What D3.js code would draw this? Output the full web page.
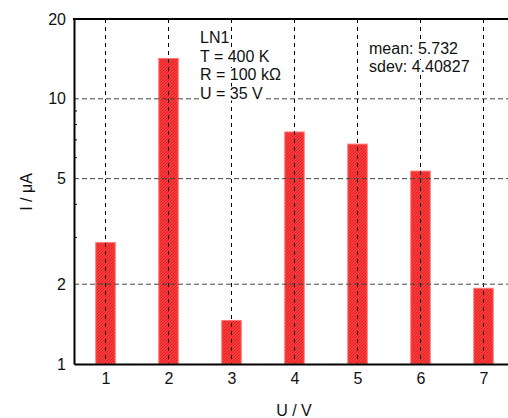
<!DOCTYPE html>
<html><head><meta charset="utf-8">
<script src="https://cdn.jsdelivr.net/npm/d3@7"></script>
<style>body{margin:0;background:#fff}svg{display:block}text{font-family:"Liberation Sans",Arial,sans-serif;fill:#111}</style>
</head><body><svg id="c" width="508" height="418"></svg>
<script>
const categories = [1, 2, 3, 4, 5, 6, 7];
const values = [2.87, 14.2, 1.46, 7.5, 6.75, 5.34, 1.93];
const yMajorTicks = [1, 2, 5, 10, 20];
const yMinorTicks = [3, 4, 6, 7, 8, 9];
const infoLines = ["LN1", "T = 400 K", "R = 100 k\u03A9", "U = 35 V"];
const statLines = ["mean: 5.732", "sdev: 4.40827"];

const svg = d3.select("#c");
const L = 74, T = 19, B = 364;
const x = d3.scaleLinear().domain([0.5, 7.5]).range([L, L + 441]);
const y = d3.scaleLog().domain([1, 20]).range([B, T]);

const defs = svg.append("defs");
const pat = defs.append("pattern").attr("id", "hatch").attr("patternUnits", "userSpaceOnUse")
  .attr("width", 3).attr("height", 3);
pat.append("rect").attr("width", 3).attr("height", 3).attr("fill", "#ff3a3a");
pat.append("path").attr("d", "M0,3 L3,0").attr("stroke", "#d42020").attr("stroke-width", 0.9);

const bw = 19.5;
svg.append("g").selectAll("rect").data(categories).join("rect")
  .attr("x", d => x(d) - bw / 2)
  .attr("y", (d, i) => y(values[i]))
  .attr("width", bw)
  .attr("height", (d, i) => B - y(values[i]))
  .attr("fill", "url(#hatch)")
  .attr("stroke", "#ff7a7a").attr("stroke-width", 1);

// grid
svg.append("g").selectAll("line").data(categories).join("line")
  .attr("x1", d => x(d)).attr("x2", d => x(d)).attr("y1", T).attr("y2", B)
  .attr("stroke", "#000").attr("stroke-width", 1).attr("stroke-dasharray", "4,4");
svg.append("g").selectAll("line").data([2, 5, 10]).join("line")
  .attr("x1", L).attr("x2", 508).attr("y1", d => y(d)).attr("y2", d => y(d))
  .attr("stroke", "#444").attr("stroke-width", 1).attr("stroke-dasharray", "5,3");

// text boxes with white background
function block(lines, x0, y0, lh) {
  const g = svg.append("g");
  lines.forEach((s, i) => {
    const t = g.append("text").attr("x", x0).attr("y", y0 + i * lh).attr("font-size", 16).text(s);
    const bb = t.node().getBBox();
    g.insert("rect", "text").attr("x", bb.x).attr("y", bb.y + 2).attr("width", bb.width).attr("height", bb.height - 3)
      .attr("fill", "#fff");
  });
}
block(infoLines, 200, 43, 18.5);
block(statLines, 369, 54, 18);

// axes
const yAxis = d3.axisLeft(y).tickValues(yMajorTicks).tickFormat(d3.format("d")).tickSize(0).tickPadding(8);
const gy = svg.append("g").attr("transform", `translate(${L},0)`).call(yAxis);
gy.select(".domain").attr("stroke", "#000").attr("stroke-width", 2);
gy.selectAll("text").attr("font-size", 16).attr("fill", "#111").attr("font-family", "Liberation Sans, Arial, sans-serif");
gy.append("g").selectAll("line").data(yMinorTicks).join("line")
  .attr("x1", 0).attr("x2", 3).attr("y1", d => y(d)).attr("y2", d => y(d)).attr("stroke", "#000");

const xAxis = d3.axisBottom(x).tickValues(categories).tickFormat(d3.format("d")).tickSize(0).tickPadding(9);
const gx = svg.append("g").attr("transform", `translate(0,${B})`).call(xAxis);
gx.select(".domain").attr("stroke", "#000").attr("stroke-width", 2);
gx.selectAll("text").attr("font-size", 16).attr("fill", "#111").attr("font-family", "Liberation Sans, Arial, sans-serif");

svg.append("line").attr("x1", L - 1).attr("x2", 508).attr("y1", T).attr("y2", T).attr("stroke", "#000").attr("stroke-width", 2);

svg.append("text").attr("x", 294).attr("y", 416).attr("text-anchor", "middle").attr("font-size", 16).text("U / V");
svg.append("text").attr("transform", "translate(32,192) rotate(-90)").attr("text-anchor", "middle").attr("font-size", 16).text("I / \u03BCA");
</script></body></html>
